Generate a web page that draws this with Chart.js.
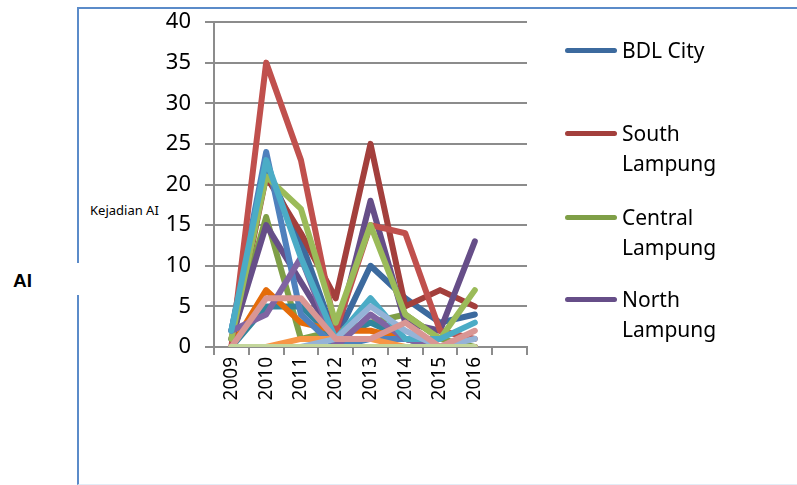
<!DOCTYPE html>
<html>
<head>
<meta charset="utf-8">
<script src="https://cdn.jsdelivr.net/npm/chart.js@4.4.0/dist/chart.umd.min.js"></script>
<style>
  body { margin: 0; background: #fff; }
  #wrap { position: relative; width: 797px; height: 485px; overflow: hidden; font-family: "Noto Sans", sans-serif; }
  #frame { position: absolute; left: 77px; top: 7px; width: 800px; height: 475px;
           border-top: 2px solid #5b8bc9; border-left: 2px solid #5b8bc9; border-bottom: 1px solid #e3ecf6; }
  #gap { position: absolute; left: 70px; top: 263px; width: 20px; height: 32px; background: #fff; }
  #chart { position: absolute; left: 0; top: 0; }
  #ai { position: absolute; left: 13px; top: 270px; font: bold 19px "Liberation Sans", Arial, sans-serif; }
  #ytitle { position: absolute; left: 90px; top: 201px; font-size: 13px; color: #000; }
  .item { position: absolute; left: 565px; width: 230px; }
  .swatch { position: absolute; left: 0; width: 52px; height: 5px; border-radius: 3px; }
  .txt { position: absolute; left: 57px; width: 125px; font-size: 21px; line-height: 30px; color: #000; }
</style>
</head>
<body>
<div id="wrap">
  <div id="frame"></div>
  <div id="gap"></div>
  <div id="ai">AI</div>
  <div id="ytitle">Kejadian AI</div>
  <canvas id="chart" width="797" height="485"></canvas>
</div>
<script>
// data: kejadian AI per kabupaten/kota, 2009-2016
const years = ["2009", "2010", "2011", "2012", "2013", "2014", "2015", "2016", ""];
const regions = [
  "BDL City", "South Lampung", "Central Lampung", "North Lampung", "Metro City",
  "East Lampung", "West Lampung", "Tanggamus", "Way Kanan", "Tulang Bawang",
  "Pesawaran", "Pringsewu", "Mesuji", "West Tulang Bawang", "Pesisir Barat",
];
const bdlCity        = [2, 22, 13, 1, 10, 6, 3, 4];
const southLampung   = [0, 21, 14, 6, 25, 5, 7, 5];
const centralLampung = [1, 16, 1, 2, 3, 4, 1, 0];
const northLampung   = [1, 15, 8, 1, 18, 3, 2, 13];
const metroCity      = [0, 5, 5, 1, 3, 1, 0, 0];
const eastLampung    = [0, 7, 3, 2, 2, 1, 0, 0];
const westLampung    = [2, 24, 4, 0, 1, 1, 0, 0];
const tanggamus      = [0, 35, 23, 2, 15, 14, 2, 1];
const wayKanan       = [1, 21, 17, 3, 15, 4, 1, 7];
const tulangBawang   = [2, 4, 11, 0, 4, 1, 0, 0];
const pesawaran      = [2, 23, 11, 1, 6, 1, 1, 3];
const pringsewu      = [0, 0, 1, 1, 1, 0, 0, 0];
const mesuji         = [0, 0, 0, 1, 5, 2, 0, 1];
const tulangBawangBarat = [0, 6, 6, 1, 1, 3, 0, 2];
const pesisirBarat   = [0, 0, 0, 0, 0, 0, 0, 0];

const series = [
  bdlCity, southLampung, centralLampung, northLampung, metroCity,
  eastLampung, westLampung, tanggamus, wayKanan, tulangBawang,
  pesawaran, pringsewu, mesuji, tulangBawangBarat, pesisirBarat,
];
const colors = [
  "#3c6a9e", "#a33f3c", "#7f9f47", "#664e88", "#31859c",
  "#e46c0a", "#4f81bd", "#c0504d", "#9bbb59", "#8064a2",
  "#4bacc6", "#f79646", "#95b3d7", "#d99694", "#c3d69b",
];
const legendCount = 4;

const n = series.length;
const datasets = series.map((values, i) => ({
  label: regions[i],
  data: values,
  borderColor: colors[i],
  backgroundColor: colors[i],
  borderWidth: 6,
  borderJoinStyle: "round",
  borderCapStyle: "round",
  pointRadius: 0,
  tension: 0,
  fill: false,
  order: n - i, // later series on top, like Excel
}));

const gray = "#8c8c8c";
new Chart(document.getElementById("chart"), {
  type: "line",
  data: { labels: years, datasets: datasets },
  options: {
    responsive: false,
    animation: false,
    layout: { padding: { left: 100, top: 22, right: 270, bottom: 78 } },
    plugins: { legend: { display: false }, tooltip: { enabled: false } },
    scales: {
      x: {
        type: "category",
        offset: true,
        grid: { offset: true, drawOnChartArea: false, tickLength: 8, color: gray, lineWidth: 2 },
        border: { color: gray, width: 2 },
        ticks: { minRotation: 90, maxRotation: 90, padding: 2, color: "#000", font: { family: "Noto Sans", size: 19 } },
        afterFit: (scale) => { scale.height = 60; },
      },
      y: {
        min: 0,
        max: 40,
        ticks: { stepSize: 5, padding: 14, color: "#000", font: { family: "Noto Sans", size: 22 } },
        grid: { color: gray, lineWidth: 2, tickLength: 9 },
        border: { color: gray, width: 2 },
        afterFit: (scale) => {
          scale.width = 114;
          // tick padding is only meant to push labels left, not shrink the plot
          scale.paddingTop = 13;
          scale.paddingBottom = 13;
        },
      },
    },
  },
});

// legend (only the first four entries are visible in the original)
const legendTops = [50, 133, 217, 299];
const wrap = document.getElementById("wrap");
for (let i = 0; i < legendCount; i++) {
  const item = document.createElement("div");
  item.className = "item";
  item.style.top = (legendTops[i] - 15) + "px";
  const sw = document.createElement("div");
  sw.className = "swatch";
  sw.style.top = "13px";
  sw.style.background = colors[i];
  const tx = document.createElement("div");
  tx.className = "txt";
  tx.textContent = regions[i];
  item.appendChild(sw);
  item.appendChild(tx);
  wrap.appendChild(item);
}
</script>
</body>
</html>
